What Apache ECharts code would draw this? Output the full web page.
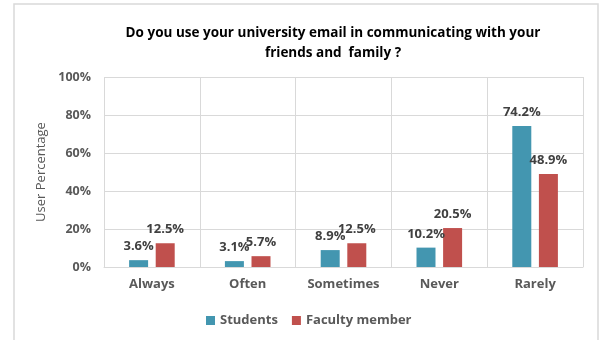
<!DOCTYPE html>
<html>
<head>
<meta charset="utf-8">
<script src="https://cdn.jsdelivr.net/npm/echarts@6/dist/echarts.min.js"></script>
<style>
  html, body { margin: 0; padding: 0; background: #ffffff; }
  #chart { width: 600px; height: 340px; }
</style>
</head>
<body>
<div id="chart"></div>
<script>
// Survey answers: use of university email with friends and family
const categories = ['Always', 'Often', 'Sometimes', 'Never', 'Rarely'];
const students = [3.6, 3.1, 8.9, 10.2, 74.2];
const faculty = [12.5, 5.7, 12.5, 20.5, 48.9];
const seriesNames = ['Students', 'Faculty member'];
const yTicks = [0, 20, 40, 60, 80, 100];

const FONT = 'Open Sans, Liberation Sans, sans-serif';
const axisGrey = '#595959';
const gridGrey = '#d9d9d9';

const chart = echarts.init(document.getElementById('chart'), null, { renderer: 'canvas' });

const labelStyle = {
  show: true,
  position: 'top',
  distance: 7,
  fontFamily: FONT,
  fontWeight: 'bold',
  fontSize: 13,
  color: '#404040',
  formatter: p => p.value.toFixed(1) + '%'
};

chart.setOption({
  animation: false,
  backgroundColor: '#ffffff',
  graphic: [{
    type: 'rect',
    shape: { x: 14, y: 4, width: 584, height: 345 },
    style: { fill: 'none', stroke: '#d9d9d9', lineWidth: 1.5 },
    silent: true
  }],
  title: {
    text: 'Do you use your university email in communicating with your\nfriends and  family ?',
    left: 328,
    top: 18,
    textAlign: 'center',
    textStyle: {
      fontFamily: FONT,
      fontWeight: 'bold',
      fontSize: 13.5,
      lineHeight: 20,
      color: '#000000'
    }
  },
  legend: {
    data: seriesNames,
    left: 201,
    top: 309,
    itemWidth: 9,
    itemHeight: 9,
    itemGap: 14,
    icon: 'rect',
    textStyle: { fontFamily: FONT, fontWeight: 'bold', fontSize: 13, color: axisGrey }
  },
  grid: { left: 104, right: 17, top: 77, bottom: 73 },
  xAxis: {
    type: 'category',
    data: categories,
    axisTick: { show: false },
    axisLine: { lineStyle: { color: gridGrey, width: 1 } },
    splitLine: { show: true, lineStyle: { color: gridGrey, width: 1 } },
    axisLabel: {
      fontFamily: FONT, fontWeight: 'bold', fontSize: 13, color: axisGrey, margin: 11
    }
  },
  yAxis: {
    type: 'value',
    min: yTicks[0],
    max: yTicks[yTicks.length - 1],
    interval: 20,
    name: 'User Percentage',
    nameLocation: 'middle',
    nameGap: 50,
    nameTextStyle: { fontFamily: FONT, fontSize: 13, color: axisGrey },
    axisLine: { show: false },
    axisTick: { show: false },
    splitLine: { lineStyle: { color: gridGrey, width: 1 } },
    axisLabel: {
      fontFamily: FONT, fontWeight: 'bold', fontSize: 12.5, color: axisGrey, margin: 13,
      formatter: v => v + '%'
    }
  },
  series: [
    {
      name: seriesNames[0],
      type: 'bar',
      data: students,
      barWidth: 19,
      barGap: '40%',
      itemStyle: { color: '#4396b0' },
      label: labelStyle
    },
    {
      name: seriesNames[1],
      type: 'bar',
      data: faculty,
      barWidth: 19,
      itemStyle: { color: '#c0504d' },
      label: labelStyle
    }
  ]
});
</script>
</body>
</html>
